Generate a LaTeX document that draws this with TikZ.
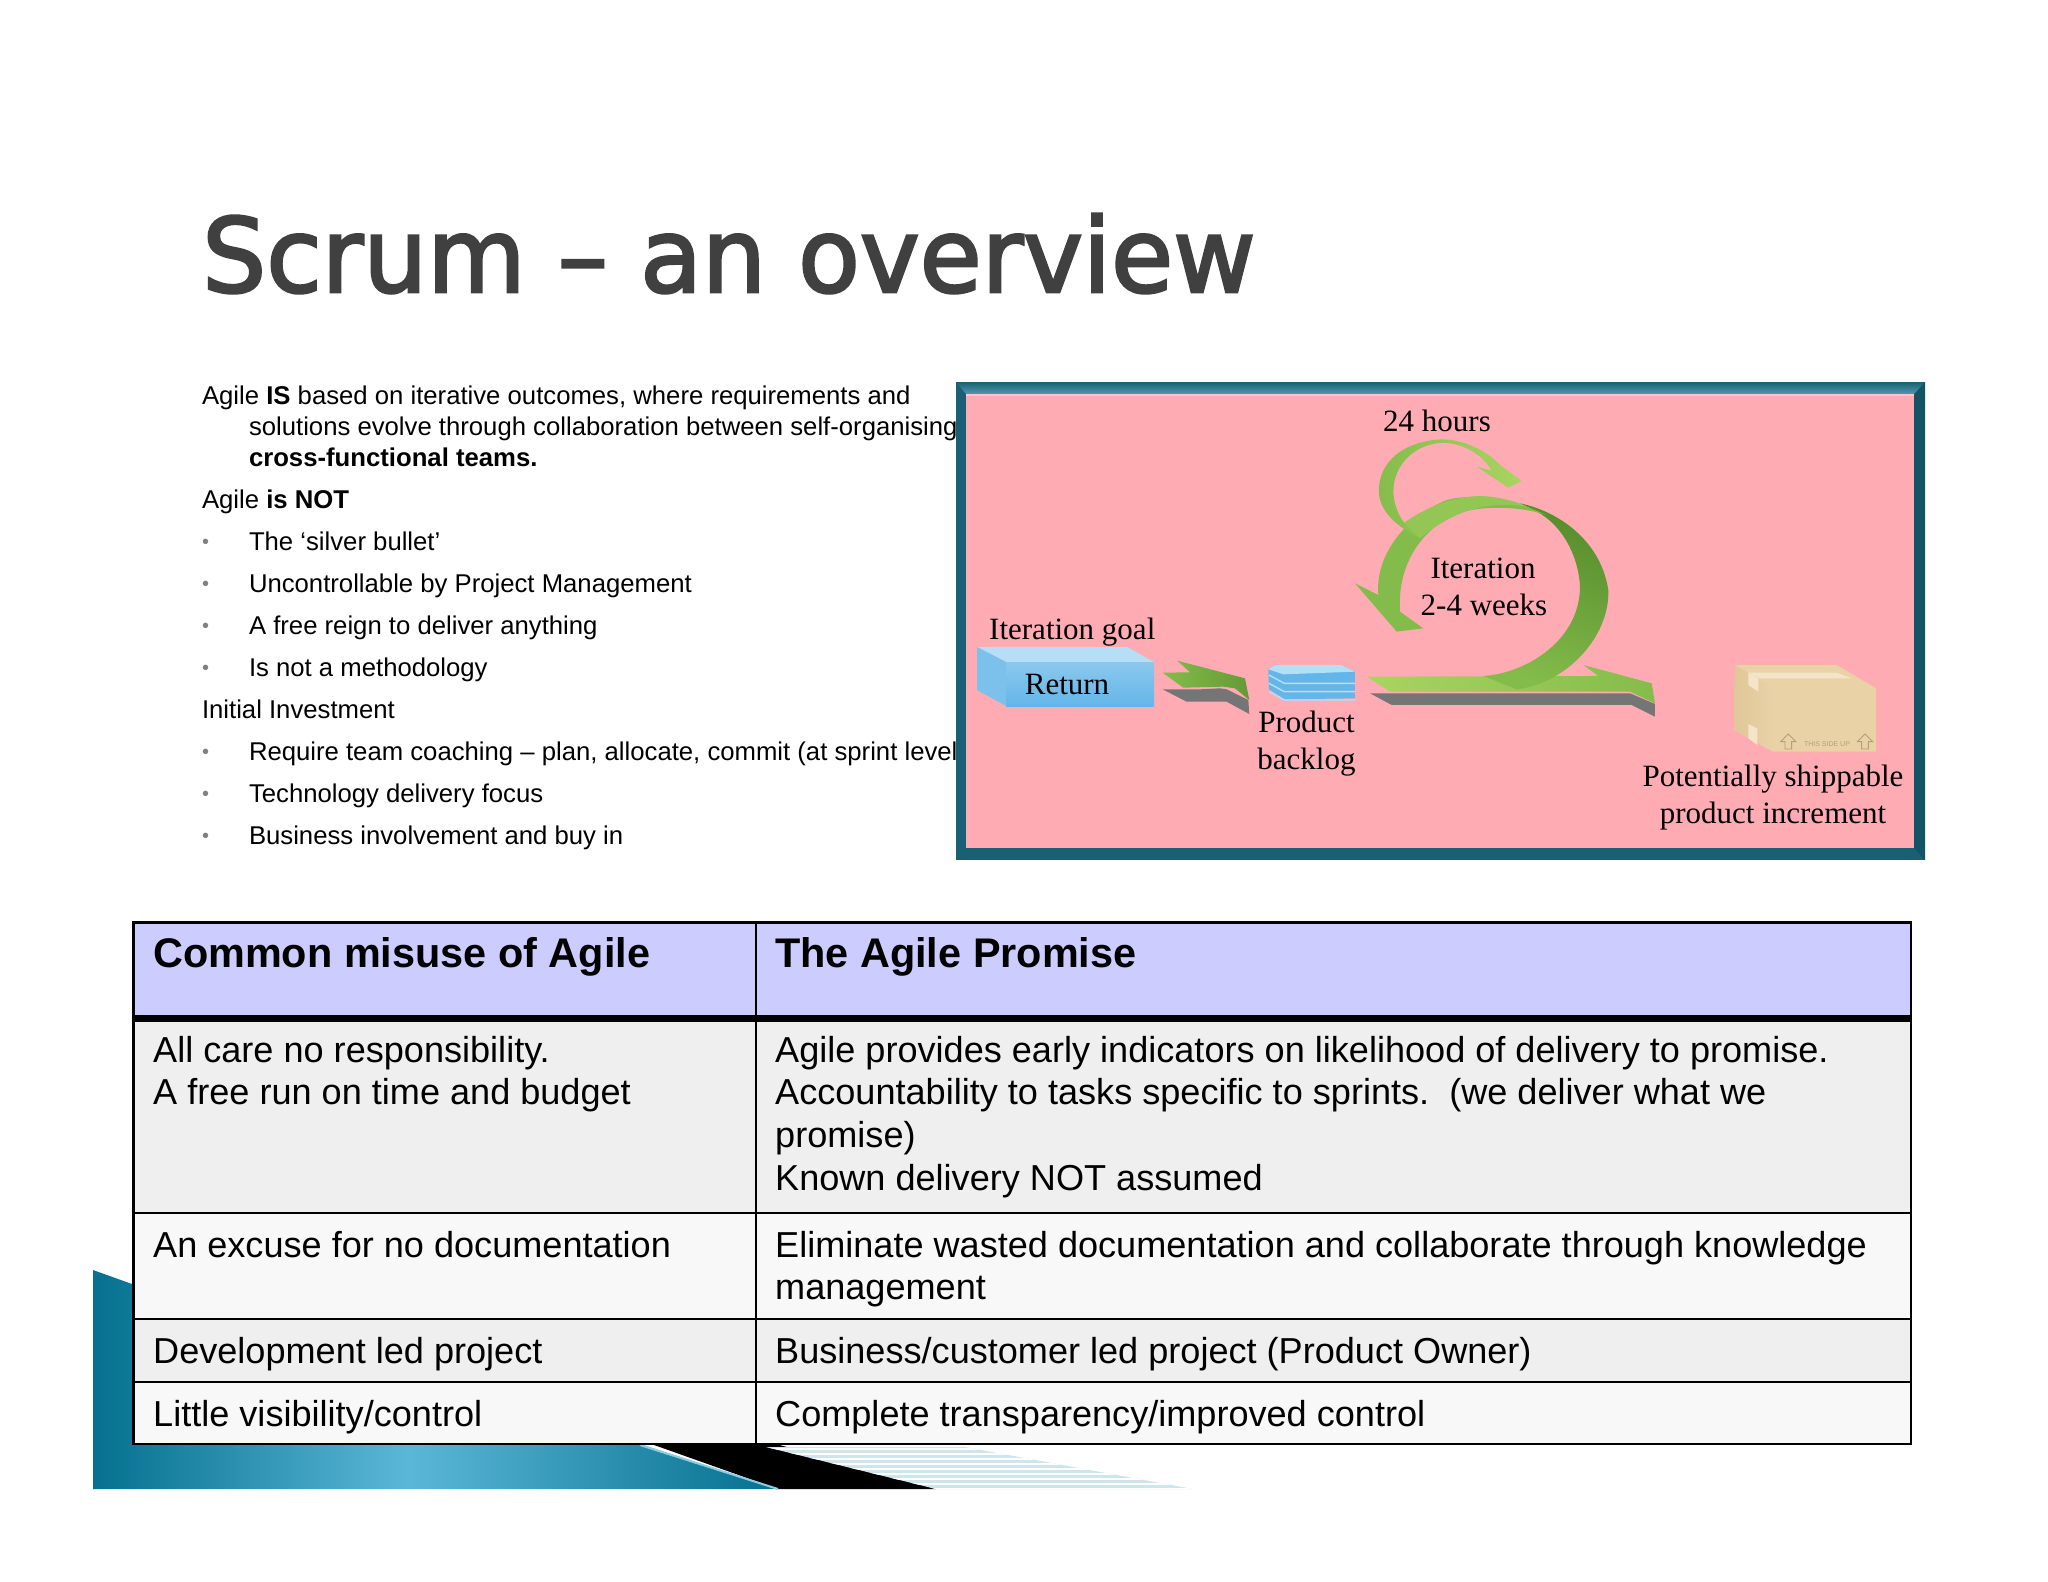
\documentclass[tikz,border=0pt]{standalone}
\usepackage{fontspec}
\setmainfont{Liberation Sans}
\newfontfamily\serifface{Liberation Serif}
\newfontfamily\titleface[FakeBold=2.5,FakeStretch=0.98]{DejaVu Sans}
\usetikzlibrary{calc}
\definecolor{teal1}{HTML}{05708F}
\definecolor{teal2}{HTML}{5BB7D8}
\definecolor{framed}{HTML}{1A6074}
\definecolor{framer}{HTML}{125365}
\definecolor{framel}{HTML}{35879F}
\definecolor{pinkbg}{HTML}{FFABB3}
\definecolor{greenl}{HTML}{A9D461}
\definecolor{greenm}{HTML}{84BC4B}
\definecolor{greend}{HTML}{578C2C}
\definecolor{shadeg}{HTML}{757575}
\definecolor{hdrrow}{HTML}{CCCCFF}
\definecolor{rowa}{HTML}{EFEFEF}
\definecolor{rowb}{HTML}{F8F8F8}
\definecolor{bluel}{HTML}{B5DFF7}
\definecolor{bluem}{HTML}{64B6E8}
\definecolor{boxc}{HTML}{E9D2A5}
\definecolor{boxd}{HTML}{DFC798}
\definecolor{boxl}{HTML}{F6E4C8}
\definecolor{boxt}{HTML}{B89E78}
\definecolor{paleb}{HTML}{CFE5EE}
\pgfdeclarehorizontalshading{tealband}{100bp}{color(0bp)=(teal1);color(25bp)=(teal1);color(48bp)=(teal2);color(75bp)=(teal1);color(100bp)=(teal1)}
\tikzset{
 x=1pt,y=-1pt,
 plaintext/.style={inner sep=0pt,outer sep=0pt,anchor=base west,font=\fontsize{25.7}{31}\selectfont,text=black},
 bulletmark/.style={inner sep=0pt,anchor=base west,font=\fontsize{20}{24}\selectfont,text=gray},
 celltext/.style={inner sep=0pt,anchor=base west,font=\fontsize{36.1}{42}\selectfont,text=black},
 headtext/.style={inner sep=0pt,anchor=base west,font=\fontsize{41.4}{46}\selectfont\bfseries,text=black},
 diagtext/.style={inner sep=0pt,anchor=base,font=\serifface\fontsize{31}{38}\selectfont,text=black},
 gridline/.style={draw=black,line width=2.4pt},
 zoomthree/.style={shift={(1340,420)},x=0.3333pt,y=-0.3333pt},
 zoomtwo/.style={shift={(970,640)},x=0.3333pt,y=-0.3333pt},
 zoombox/.style={shift={(1720,650)},x=0.3333pt,y=-0.3333pt},
 stackedge/.style={draw=bluel,line width=1.4pt},
 boxmark/.style={draw=boxt,line width=0.9pt},
}
\begin{document}
\begin{tikzpicture}
\useasboundingbox (0,0) rectangle (2048,1582);
\fill[white] (0,0) rectangle (2048,1582);
% decorative corner
\shade[shading=tealband] (93,1270) -- (132,1284) -- (132,1300) -- (640,1300) -- (640,1444) -- (778,1489) -- (93,1489) -- cycle;
\fill[black] (640,1440) -- (762,1440) -- (936,1489) -- (778,1489) -- cycle;
\draw[teal2!70!white,line width=2pt] (640,1445) -- (778,1489);
\fill[paleb] (766,1447) -- (965,1447) -- (1193,1489) -- (936,1489) -- cycle;
\begin{scope}
\clip (766,1447) -- (965,1447) -- (1193,1489) -- (936,1489) -- cycle;
\foreach \yy in {1449,1454,...,1489} \draw[white,line width=1.2pt] (760,\yy) -- (1200,\yy);
\end{scope}
% title
\node[inner sep=0pt,anchor=base west,font=\titleface\fontsize{103}{113}\selectfont,text=black!75] (title) at (202,292) {Scrum – an overview};
% left text
\node[plaintext] (t1) at (202,404) {Agile \textbf{IS} based on iterative outcomes, where requirements and};
\node[plaintext] (t2) at (249,435) {solutions evolve through collaboration between self-organising};
\node[plaintext] (t3) at (249,466) {\textbf{cross-functional teams.}};
\node[plaintext] (t4) at (202,508) {Agile \textbf{is NOT}};
\node[bulletmark] (b1) at (202,548) {•};
\node[plaintext] (t5) at (249,550) {The ‘silver bullet’};
\node[bulletmark] (b2) at (202,590) {•};
\node[plaintext] (t6) at (249,592) {Uncontrollable by Project Management};
\node[bulletmark] (b3) at (202,632) {•};
\node[plaintext] (t7) at (249,634) {A free reign to deliver anything};
\node[bulletmark] (b4) at (202,674) {•};
\node[plaintext] (t8) at (249,676) {Is not a methodology};
\node[plaintext] (t9) at (202,718) {Initial Investment};
\node[bulletmark] (b5) at (202,758) {•};
\node[plaintext] (t10) at (249,760) {Require team coaching – plan, allocate, commit (at sprint level};
\node[bulletmark] (b6) at (202,800) {•};
\node[plaintext] (t11) at (249,802) {Technology delivery focus};
\node[bulletmark] (b7) at (202,842) {•};
\node[plaintext] (t12) at (249,844) {Business involvement and buy in};
% picture frame
\fill[framed] (956,382) rectangle (1925,860);
\fill[framer] (1925,382) -- (1925,860) -- (1914,848) -- (1914,394) -- cycle;
\shade[top color=framed,bottom color=framel!85!white] (956,382) -- (1925,382) -- (1914,394) -- (966,394) -- cycle;
\fill[pinkbg] (966,394) rectangle (1914,848);
\fill[white,opacity=.3] (966,394) rectangle (1914,396);
% Return block
\fill[bluel] (977,647) -- (1127,647) -- (1154,662) -- (1006,662) -- cycle;
\fill[bluem!85!white] (977,647) -- (1006,662) -- (1006,706) -- (977,690) -- cycle;
\shade[top color=bluem!75!white,bottom color=bluem] (1006,662) rectangle (1154,706);
\begin{scope}[zoomtwo]
% small arrow
\fill[shadeg] (578,148) -- (690,148) -- (750,145) -- (770,148) -- (835,180) -- (838,222) -- (770,185) -- (650,185) -- cycle;
\shade[left color=greenm,right color=greend!70!greenm] (578,98) -- (660,97) -- (622,62) -- (825,115) -- (838,180) -- (795,145) -- (760,140) -- (640,143) -- cycle;
% stack of backlog sheets
\fill[bluem] (895,88) -- (915,75) -- (1115,75) -- (1155,95) -- (1155,175) -- (945,178) -- (897,148) -- cycle;
\fill[bluel] (895,88) -- (915,75) -- (1115,75) -- (1155,95) -- (940,103) -- cycle;
\foreach \o in {0,25,50} \draw[stackedge] (897,{105+\o}) -- (943,{130+\o}) -- (1155,{130+\o});
\end{scope}
\begin{scope}[zoombox]
% box
\fill[boxc] (45,45) -- (350,45) -- (468,115) -- (468,305) -- (160,305) -- (42,240) -- cycle;
\shade[left color=boxd,right color=boxc] (45,45) -- (160,115) -- (160,305) -- (42,240) -- cycle;
\fill[boxl] (85,68) -- (350,68) -- (395,85) -- (120,85) -- cycle;
\fill[boxl] (85,68) -- (115,85) -- (115,125) -- (85,105) -- cycle;
\fill[boxl] (85,222) -- (112,235) -- (112,285) -- (85,265) -- cycle;
\draw[boxmark] (205,252) -- (182,275) -- (195,275) -- (195,297) -- (215,297) -- (215,275) -- (228,275) -- cycle;
\draw[boxmark] (435,252) -- (412,275) -- (425,275) -- (425,297) -- (445,297) -- (445,275) -- (458,275) -- cycle;
\end{scope}
\node[inner sep=0pt,font=\fontsize{7}{8}\selectfont,text=boxt] (sideup) at (1827,744) {THIS SIDE UP};
\begin{scope}[zoomthree]
% flat arrow shadow and flat arrow
\fill[shadeg] (90,820) -- (870,820) -- (945,852) -- (945,890) -- (875,855) -- (155,855) -- cycle;
\shade[left color=greenl,right color=greenm] (80,770) -- (775,768) -- (730,735) -- (935,790) -- (945,850) -- (870,815) -- (150,815) -- cycle;
% dark back part of the big loop
\shade[top color=greend,bottom color=greenm,shading angle=-20] (540,250) .. controls (640,270) and (780,350) .. (805,510) .. controls (810,650) and (680,790) .. (530,808) -- (430,768) .. controls (560,760) and (720,660) .. (720,500) .. controls (715,400) and (660,310) .. (590,275) -- cycle;
% light front part of the big loop with arrowhead
\fill[greenm] (45,490) -- (115,525) .. controls (105,400) and (200,290) .. (320,240) .. controls (400,220) and (490,235) .. (560,260) -- (620,285) .. controls (550,262) and (450,255) .. (370,275) .. controls (260,310) and (170,420) .. (180,575) -- (250,625) -- (170,635) -- cycle;
\fill[greenl!40!greenm] (190,310) .. controls (260,260) and (340,230) .. (420,228) .. controls (480,230) and (530,245) .. (560,260) .. controls (470,245) and (360,255) .. (240,355) -- cycle;
% small loop arrow
\shade[left color=greenm,right color=greenl] (240,355) .. controls (170,320) and (110,270) .. (117,200) .. controls (125,110) and (210,60) .. (310,58) .. controls (380,60) and (450,100) .. (480,135) -- (545,182) -- (505,203) -- (410,140) -- (455,152) .. controls (430,105) and (370,70) .. (310,68) .. controls (230,70) and (160,130) .. (160,215) .. controls (162,270) and (190,320) .. (240,355) -- cycle;
\end{scope}
% diagram labels
\node[diagtext] (d24) at (1437,431) {24 hours};
\node[diagtext] (diter) at (1483,578) {Iteration};
\node[diagtext] (dweeks) at (1484,615) {2-4 weeks};
\node[diagtext,anchor=base west] (dgoal) at (989,639) {Iteration goal};
\node[diagtext] (dreturn) at (1067,694) {Return};
\node[diagtext] (dprod) at (1306.5,732) {Product};
\node[diagtext] (dback) at (1306.5,769) {backlog};
\node[diagtext] (dpot) at (1773,786) {Potentially shippable};
\node[diagtext] (dinc) at (1773,823) {product increment};
% table
\fill[hdrrow] (133,922) rectangle (1911,1018);
\fill[rowa] (133,1018) rectangle (1911,1213);
\fill[rowb] (133,1213) rectangle (1911,1319);
\fill[rowa] (133,1319) rectangle (1911,1382);
\fill[rowb] (133,1382) rectangle (1911,1444);
\draw[gridline] (133.5,922.5) rectangle (1911,1444);
\draw[gridline] (756,922) -- (756,1444);
\draw[draw=black,line width=7pt] (133,1018.5) -- (1911,1018.5);
\draw[gridline] (133,1213) -- (1911,1213);
\draw[gridline] (133,1319) -- (1911,1319);
\draw[gridline] (133,1382) -- (1911,1382);
\node[headtext] (h1) at (153,967) {Common misuse of Agile};
\node[headtext] (h2) at (775,967) {The Agile Promise};
\node[celltext] (c1) at (153,1062) {All care no responsibility.};
\node[celltext] (c2) at (153,1104) {A free run on time and budget};
\node[celltext] (e1) at (775,1062) {Agile provides early indicators on likelihood of delivery to promise.};
\node[celltext] (e2) at (775,1104) {Accountability to tasks specific to sprints.\ \ (we deliver what we};
\node[celltext] (e3) at (775,1147) {promise)};
\node[celltext] (e4) at (775,1190) {Known delivery NOT assumed};
\node[celltext] (c3) at (153,1257) {An excuse for no documentation};
\node[celltext] (e5) at (775,1257) {Eliminate wasted documentation and collaborate through knowledge};
\node[celltext] (e6) at (775,1299) {management};
\node[celltext] (c4) at (153,1363) {Development led project};
\node[celltext] (e7) at (775,1363) {Business/customer led project (Product Owner)};
\node[celltext] (c5) at (153,1426) {Little visibility/control};
\node[celltext] (e8) at (775,1426) {Complete transparency/improved control};
\end{tikzpicture}
\end{document}
